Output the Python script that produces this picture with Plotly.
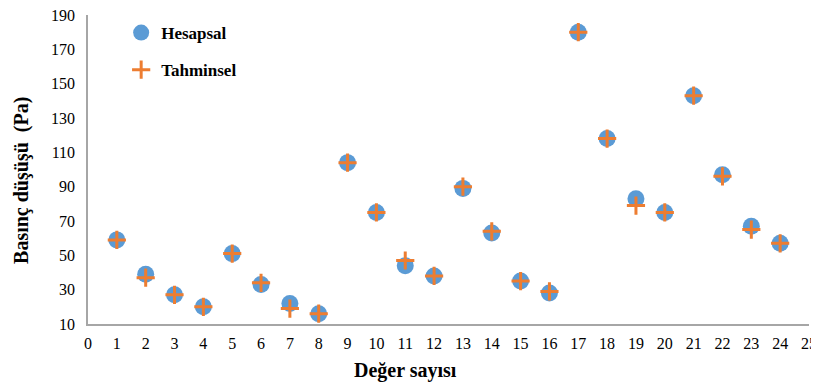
import plotly.graph_objects as go

x_vals = list(range(1, 25))
hesapsal = [59, 39, 27, 20, 51, 33, 22, 16, 104, 75, 44, 38, 89, 63, 35, 28, 180, 118, 83, 75, 143, 97, 67, 57]
tahminsel = [59, 37, 27, 20, 51, 34, 19, 16, 104, 75, 47, 38, 90, 64, 35, 29, 180, 118, 79, 75, 143, 96, 65, 57]
x_ticks = list(range(0, 26))
y_ticks = list(range(10, 191, 20))

serif = "Liberation Serif"

fig = go.Figure()
fig.add_trace(go.Scatter(
    x=x_vals, y=hesapsal, mode="markers", name="<b>Hesapsal</b>", legendgroup="h",
    marker=dict(symbol="circle", size=17, color="#5B9BD5", line=dict(width=0)),
))
fig.add_trace(go.Scatter(
    x=x_vals, y=tahminsel, mode="markers", name="<b>Tahminsel</b>", legendgroup="t",
    marker=dict(symbol="cross-thin", size=13, color="#ED7D31",
                line=dict(width=3, color="#ED7D31")),
))

fig.update_layout(
    width=811, height=379,
    margin=dict(l=80, r=10, t=7, b=63, autoexpand=False),
    paper_bgcolor="white", plot_bgcolor="white",
    font=dict(family=serif, size=16, color="#000000"),
    showlegend=True,
    legend=dict(
        x=0.046, y=1.0, xanchor="left", yanchor="top",
        font=dict(family=serif, size=17, color="#000000"),
        tracegroupgap=12, itemwidth=30, bgcolor="rgba(0,0,0,0)",
    ),
    xaxis=dict(
        range=[0, 25], tickvals=x_ticks, ticktext=[str(v) for v in x_ticks],
        showgrid=False, zeroline=False, showline=True, linecolor="#A6A6A6",
        linewidth=1.5, ticks="", ticklabelstandoff=4, ticklabeloverflow="allow",
        tickfont=dict(family=serif, size=16, color="#000000"),
        automargin=False,
    ),
    yaxis=dict(
        range=[10, 190], tickvals=y_ticks, ticktext=[str(v) for v in y_ticks],
        showgrid=False, zeroline=False, showline=True, linecolor="#A6A6A6",
        linewidth=1.5, ticks="", ticklabelstandoff=8, ticklabeloverflow="allow",
        tickfont=dict(family=serif, size=16, color="#000000"),
        automargin=False,
    ),
)

# axis titles, positioned as in the reference (offset from the plot centre)
fig.add_annotation(
    text="<b>Değer sayısı</b>", xref="paper", yref="paper", x=0.44, y=-0.149,
    xanchor="center", yanchor="middle", showarrow=False,
    font=dict(family=serif, size=20, color="#000000"),
)
fig.add_annotation(
    text="<b>Basınç düşüşü&nbsp; (Pa)</b>", xref="paper", yref="paper", x=-0.093, y=0.466,
    xanchor="center", yanchor="middle", showarrow=False, textangle=-90,
    font=dict(family=serif, size=20, color="#000000"),
)

fig.write_html("out.html")
